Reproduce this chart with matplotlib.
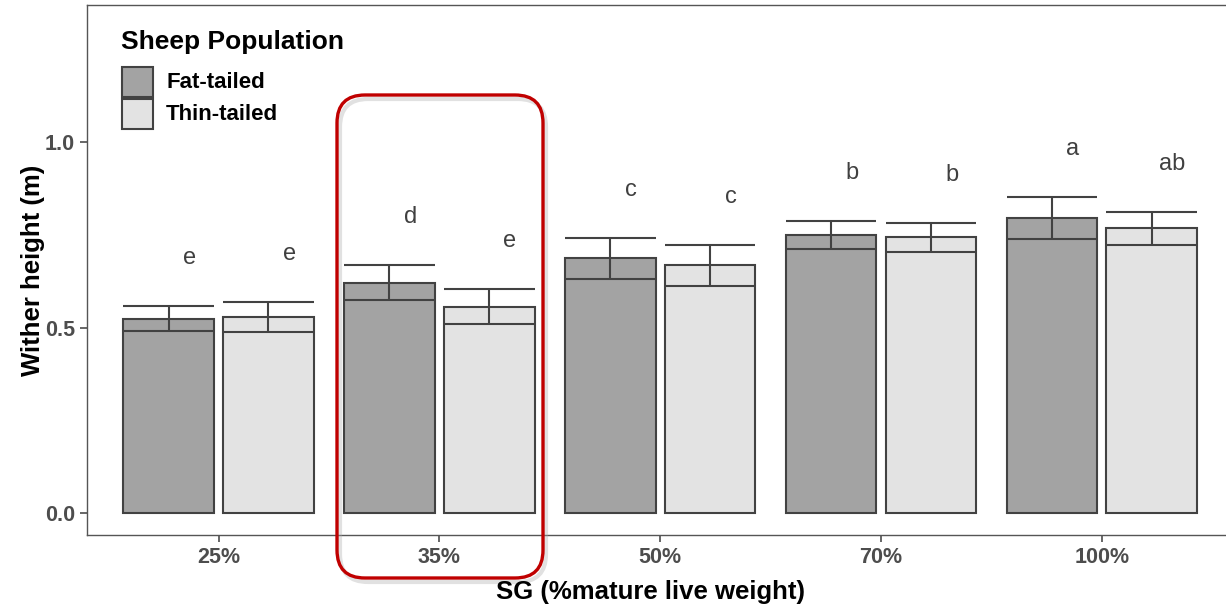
import matplotlib
matplotlib.use('Agg')
import matplotlib.pyplot as plt
from matplotlib.patches import FancyBboxPatch, Rectangle
from matplotlib.transforms import IdentityTransform
import numpy as np

# Data
groups = ['25%', '35%', '50%', '70%', '100%']
fat_mean = [0.524, 0.621, 0.686, 0.749, 0.795]
fat_se = [0.034, 0.047, 0.054, 0.037, 0.057]
thin_mean = [0.529, 0.556, 0.668, 0.743, 0.767]
thin_se = [0.040, 0.047, 0.055, 0.039, 0.044]
fat_letters = ['e', 'd', 'c', 'b', 'a']
thin_letters = ['e', 'e', 'c', 'b', 'ab']
series = ['Fat-tailed', 'Thin-tailed']
y_ticks = [0.0, 0.5, 1.0]

plt.rcParams['font.family'] = ['Liberation Sans', 'DejaVu Sans']

fat_col = '#a3a3a3'
thin_col = '#e3e3e3'
edge = '#424242'
tick_col = '#4d4d4d'

fig = plt.figure(figsize=(12.26, 6.05), dpi=100)
ax = fig.add_axes([87 / 1226, 70 / 605, (1232 - 87) / 1226, 530 / 605])

x = np.arange(len(groups))
w = 0.41
off = 0.226

for xs, means, ses, col, letters in [(x - off, fat_mean, fat_se, fat_col, fat_letters),
                                      (x + off, thin_mean, thin_se, thin_col, thin_letters)]:
    ax.bar(xs, means, width=w, color=col, edgecolor=edge, linewidth=1.5, zorder=2)
    means = np.array(means)
    ses = np.array(ses)
    ax.hlines(means + ses, xs - w / 2, xs + w / 2, color=edge, linewidth=1.5, zorder=3)
    ax.hlines(means - ses, xs - w / 2, xs + w / 2, color=edge, linewidth=1.5, zorder=3)
    ax.vlines(xs, means - ses, means + ses, color=edge, linewidth=1.5, zorder=3)
    for xi, yi, lab in zip(xs, means + ses, letters):
        ax.text(xi + 0.094, yi + 0.13, lab, ha='center', va='center',
                fontsize=17, color='#404040')

ax.set_xlim(-0.596, 4.59)
ax.set_ylim(-0.059, 1.369)
ax.set_xticks(x)
ax.set_xticklabels(groups)
ax.set_yticks(y_ticks)
ax.set_yticklabels(['%.1f' % v for v in y_ticks])
ax.tick_params(axis='both', colors=tick_col, length=5, width=1.2, labelsize=15.5)
for lab in ax.get_xticklabels() + ax.get_yticklabels():
    lab.set_fontweight('bold')
for s in ['left', 'top', 'bottom', 'right']:
    ax.spines[s].set_color('#555555')
    ax.spines[s].set_linewidth(1.0)

ax.set_ylabel('Wither height (m)', fontsize=18.5, fontweight='bold', labelpad=0)
fig.text(650 / 1226, 1 - 592 / 605, 'SG (%mature live weight)', ha='center', va='center',
         fontsize=18.5, fontweight='bold')

# Legend drawn by hand (pixel coordinates)
ident = IdentityTransform()
fig.text(121, 605 - 42, 'Sheep Population', transform=ident, ha='left', va='center',
         fontsize=19, fontweight='bold')
for i, (name, col) in enumerate(zip(series, [fat_col, thin_col])):
    top = 67 + i * 32
    fig.patches.append(Rectangle((122, 605 - top - 30), 31, 30, transform=ident,
                                 facecolor=col, edgecolor=edge, linewidth=1.5))
    fig.text(166, 605 - top - 15, name, transform=ident, ha='left', va='center',
             fontsize=16, fontweight='bold')

# Highlight box around the 35% group
shadow = FancyBboxPatch((340, 23), 206, 483, boxstyle='round,pad=0,rounding_size=28',
                        transform=ident, facecolor='none',
                        edgecolor='#aaaaaa', linewidth=3, alpha=0.35)
box = FancyBboxPatch((337, 27), 206, 483, boxstyle='round,pad=0,rounding_size=28',
                     transform=ident, facecolor='none',
                     edgecolor='#c00000', linewidth=2.4)
fig.patches.extend([shadow, box])

fig.savefig('out.png', dpi=100)
